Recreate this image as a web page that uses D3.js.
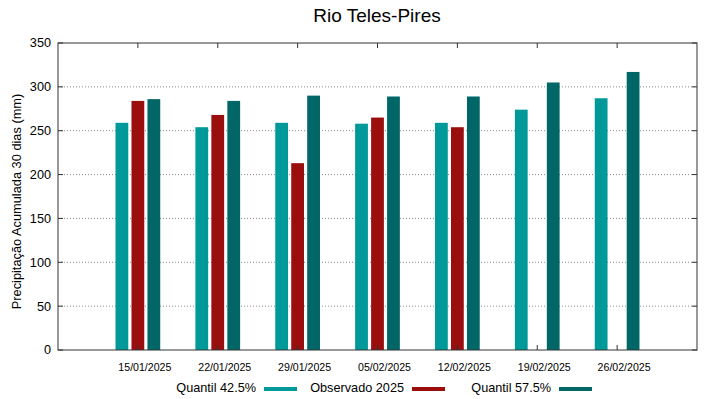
<!DOCTYPE html>
<html>
<head>
<meta charset="utf-8">
<script src="https://cdn.jsdelivr.net/npm/d3@7"></script>
<style>
  html, body { margin: 0; padding: 0; background: #fff; }
  svg { display: block; font-family: "Liberation Sans", Arial, sans-serif; }
</style>
</head>
<body>
<div id="chart"></div>
<script>
// Dados
const dates = ["15/01/2025", "22/01/2025", "29/01/2025", "05/02/2025", "12/02/2025", "19/02/2025", "26/02/2025"];
const quantil425 = [259, 254, 259, 258, 259, 274, 287];
const observado2025 = [284, 268, 213, 265, 254, null, null];
const quantil575 = [286, 284, 290, 289, 289, 305, 317];
const yTicks = [0, 50, 100, 150, 200, 250, 300, 350];

const seriesNames = ["Quantil 42.5%", "Observado 2025", "Quantil 57.5%"];
const seriesColors = ["#009999", "#9a0e0e", "#006666"];

(function () {
  const W = 719, H = 399;
  const plot = { left: 58, right: 697, top: 43, bottom: 350 };

  const svg = d3.select("#chart").append("svg")
    .attr("width", W)
    .attr("height", H);

  const x = d3.scaleLinear().domain([-1, dates.length]).range([plot.left, plot.right]);
  const y = d3.scaleLinear().domain([0, 350]).range([plot.bottom, plot.top]);

  // ===== Grid pontilhada =====
  svg.append("g")
    .selectAll("line")
    .data(yTicks.filter(v => v > 0 && v < 350))
    .enter().append("line")
      .attr("x1", plot.left).attr("x2", plot.right)
      .attr("y1", d => y(d)).attr("y2", d => y(d))
      .attr("stroke", "#8a8a8a")
      .attr("stroke-width", 1)
      .attr("stroke-dasharray", "1,2");

  // ===== Barras =====
  const series = [quantil425, observado2025, quantil575];
  const offsets = [-0.2, 0, 0.2];
  const barW = 0.16;

  series.forEach((vals, s) => {
    svg.append("g")
      .selectAll("rect")
      .data(vals.map((v, i) => ({ i, v })).filter(d => d.v != null))
      .enter().append("rect")
        .attr("x", d => x(d.i + offsets[s] - barW / 2))
        .attr("y", d => y(d.v))
        .attr("width", x(barW) - x(0))
        .attr("height", d => y(0) - y(d.v))
        .attr("fill", seriesColors[s]);
  });

  // ===== Moldura e ticks (estilo gnuplot, para dentro) =====
  const axisColor = "#333";
  svg.append("rect")
    .attr("x", plot.left).attr("y", plot.top)
    .attr("width", plot.right - plot.left)
    .attr("height", plot.bottom - plot.top)
    .attr("fill", "none")
    .attr("stroke", axisColor)
    .attr("stroke-width", 1);

  const tk = 5;
  const gT = svg.append("g").attr("stroke", axisColor).attr("stroke-width", 1);
  yTicks.forEach(v => {
    gT.append("line").attr("x1", plot.left).attr("x2", plot.left + tk).attr("y1", y(v)).attr("y2", y(v));
    gT.append("line").attr("x1", plot.right).attr("x2", plot.right - tk).attr("y1", y(v)).attr("y2", y(v));
  });
  dates.forEach((d, i) => {
    gT.append("line").attr("x1", x(i)).attr("x2", x(i)).attr("y1", plot.bottom).attr("y2", plot.bottom - tk);
    gT.append("line").attr("x1", x(i)).attr("x2", x(i)).attr("y1", plot.top).attr("y2", plot.top + tk);
  });

  // ===== Rótulos dos eixos =====
  svg.append("g")
    .selectAll("text")
    .data(yTicks)
    .enter().append("text")
      .attr("x", plot.left - 7)
      .attr("y", d => y(d))
      .attr("dy", "0.35em")
      .attr("text-anchor", "end")
      .style("font-size", "12.7px")
      .style("fill", "#000")
      .text(d => d);

  svg.append("g")
    .selectAll("text")
    .data(dates)
    .enter().append("text")
      .attr("x", (d, i) => x(i) + 7)
      .attr("y", 371)
      .attr("text-anchor", "middle")
      .style("font-size", "10.6px")
      .style("fill", "#000")
      .text(d => d);

  svg.append("text")
    .attr("transform", "translate(21, 201.5) rotate(-90)")
    .attr("text-anchor", "middle")
    .style("font-size", "12.8px")
    .style("fill", "#000")
    .text("Precipitação Acumulada 30 dias (mm)");

  // ===== Título =====
  svg.append("text")
    .attr("x", 377)
    .attr("y", 22)
    .attr("text-anchor", "middle")
    .style("font-size", "19px")
    .style("fill", "#000")
    .text("Rio Teles-Pires");

  // ===== Legenda =====
  const legendSwatchX = [264, 412, 559];
  const leg = svg.append("g");
  seriesNames.forEach((name, s) => {
    leg.append("text")
      .attr("x", legendSwatchX[s] - 8)
      .attr("y", 392)
      .attr("text-anchor", "end")
      .style("font-size", "12.7px")
      .style("fill", "#000")
      .text(name);
    leg.append("rect")
      .attr("x", legendSwatchX[s])
      .attr("y", 387)
      .attr("width", 33)
      .attr("height", 4)
      .attr("fill", seriesColors[s]);
  });
})();
</script>
</body>
</html>
